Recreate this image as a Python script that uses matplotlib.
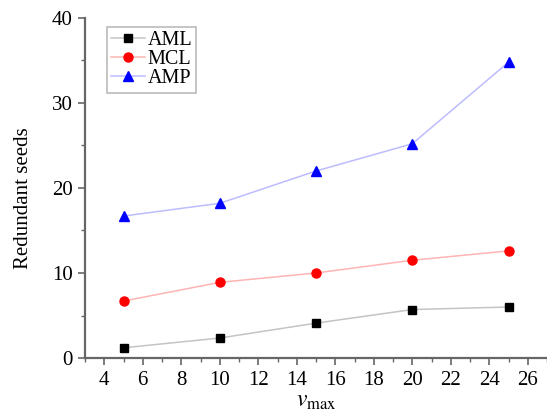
import matplotlib
matplotlib.use("Agg")
import matplotlib.pyplot as plt
from matplotlib.ticker import MultipleLocator

vmax = [5, 10, 15, 20, 25]
aml = [1.2, 2.35, 4.1, 5.7, 6.0]
mcl = [6.7, 8.9, 10.0, 11.5, 12.6]
amp = [16.7, 18.2, 22.0, 25.2, 34.8]
series_names = ["AML", "MCL", "AMP"]

plt.rcParams['font.family'] = ['Liberation Serif', 'DejaVu Serif']
plt.rcParams['mathtext.fontset'] = 'stix'

fig = plt.figure(figsize=(5.47, 4.15), dpi=100)
ax = fig.add_axes([85/547, 1 - 358/415, 462/547, 340/415])

ax.plot(vmax, aml, color='#c4c4c4', lw=1.1, marker='s', ms=6, mfc='black', mec='black', label=series_names[0])
ax.plot(vmax, mcl, color='#ffb4b4', lw=1.1, marker='o', ms=6.5, mfc='red', mec='red', label=series_names[1])
ax.plot(vmax, amp, color='#bcbcff', lw=1.1, marker='^', ms=7, mfc='blue', mec='blue', label=series_names[2])

ax.set_xlim(3, 27)
ax.set_ylim(0, 40)
ax.xaxis.set_major_locator(MultipleLocator(2))
ax.xaxis.set_minor_locator(MultipleLocator(1))
ax.yaxis.set_major_locator(MultipleLocator(10))
ax.yaxis.set_minor_locator(MultipleLocator(5))

for s in ['top', 'right']:
    ax.spines[s].set_visible(False)
for s in ['left', 'bottom']:
    ax.spines[s].set_color('#666666')
    ax.spines[s].set_linewidth(1.6)

ax.tick_params(which='major', direction='out', length=5, width=1.2, color='#666666', labelsize=15)
ax.tick_params(axis='x', which='major', pad=4)
ax.tick_params(axis='y', which='major', pad=4)
ax.tick_params(which='minor', direction='out', length=3, width=1.0, color='#666666')

ax.set_ylabel('Redundant seeds', fontsize=15)
ax.yaxis.set_label_coords(-0.112, 0.47)
ax.set_xlabel(r'$\mathit{v}_{\mathrm{max}}$', fontsize=17, labelpad=1)

leg = ax.legend(loc='upper left', bbox_to_anchor=(0.048, 0.973), fontsize=14.5, frameon=True,
                fancybox=False, edgecolor='#aaaaaa', handlelength=1.7, handletextpad=0.1,
                borderpad=0.2, labelspacing=0.0, borderaxespad=0)
leg.get_frame().set_linewidth(1.2)

fig.savefig('out.png', dpi=100)
